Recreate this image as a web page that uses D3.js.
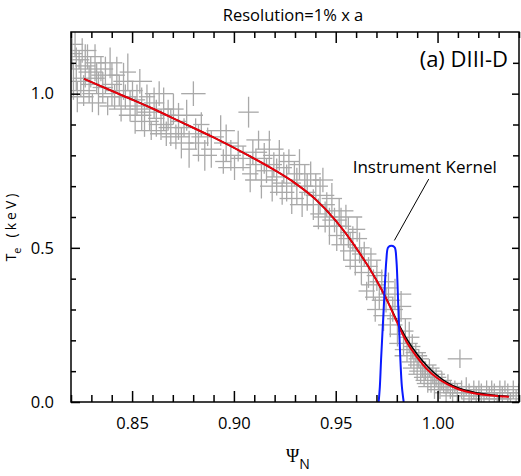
<!DOCTYPE html>
<html lang="en">
<head>
<meta charset="UTF-8">
<title>Te profile, DIII-D</title>
<script src="https://cdn.jsdelivr.net/npm/d3@7"></script>
<style>
body { margin: 0; background: #fff; }
svg text { font-family: "Open Sans", sans-serif; fill: #000; }
.tick text { font-size: 16.5px; }
.cross line { stroke: #a9a9a9; stroke-width: 1.3; }
</style>
</head>
<body>
<div id="chart"></div>
<script>
// measured points: psi_N, Te (keV) and their half error bars (one line per psi block)
const psiData = [
  0.8205,0.8212,0.8220,0.8226,0.8231,0.8240,0.8248,0.8255,0.8262,0.8270,0.8281,0.8289,0.8297,0.8305,0.8318,0.8326,0.8335,0.8347,0.8356,0.8369,0.8380,0.8392,0.8401,0.8414,0.8425,0.8437,0.8446,0.8458,
  0.8467,0.8479,0.8490,0.8502,0.8515,0.8524,0.8538,0.8547,0.8561,0.8573,0.8586,0.8594,0.8608,0.8619,0.8633,0.8642,0.8655,0.8668,0.8677,0.8690,
  0.8703,0.8715,0.8728,0.8742,0.8755,0.8768,0.8780,0.8801,0.8812,0.8826,0.8840,0.8857,0.8871,0.8889,0.8935,0.8948,0.8962,0.8985,0.9003,0.9021,
  0.9045,0.9072,0.9080,0.9093,0.9108,0.9121,0.9135,0.9149,0.9160,0.9174,0.9188,0.9196,0.9210,0.9223,0.9237,0.9245,0.9259,0.9270,0.9284,0.9297,0.9309,0.9322,0.9335,0.9348,0.9360,0.9377,
  0.9390,0.9402,0.9415,0.9423,0.9437,0.9448,0.9456,0.9469,0.9481,0.9494,0.9505,0.9517,0.9526,0.9539,0.9550,0.9562,0.9571,0.9584,0.9596,0.9605,0.9617,0.9626,0.9640,0.9652,0.9661,0.9673,0.9685,0.9694,0.9702,0.9714,
  0.9726,0.9735,0.9747,0.9759,0.9768,0.9780,0.9791,0.9803,0.9812,0.9821,0.9833,0.9842,0.9850,0.9861,0.9869,0.9876,0.9884,0.9893,0.9900,0.9908,
  0.9917,0.9925,0.9934,0.9941,0.9952,0.9960,0.9968,0.9977,0.9985,0.9993,1.0004,1.0012,1.0021,1.0030,1.0042,1.0051,1.0063,1.0074,1.0085,1.0097,
  1.0110,1.0118,1.0129,1.0141,1.0155,1.0166,1.0178,1.0190,1.0203,1.0215,1.0228,1.0241,1.0254,1.0266,1.0279,1.0293,1.0306,1.0318,1.0331,1.0345,1.0358,1.0372,1.0386,1.0399
];
const teData = [
  1.13,1.04,1.16,1.08,0.99,1.11,1.05,1.14,1.01,1.09,1.12,1.03,1.07,0.97,1.10,1.05,1.00,1.08,1.02,1.06,0.96,1.10,1.03,0.99,1.06,1.01,0.95,1.04,
  0.99,1.07,0.96,1.01,0.93,0.98,1.04,0.95,0.91,0.99,0.94,0.88,0.97,0.92,1.00,0.90,0.95,0.87,0.93,0.89,
  0.95,0.86,0.91,0.84,0.89,0.93,0.82,1.00,0.87,0.84,0.90,0.80,0.86,0.82,0.88,0.78,0.84,0.80,0.76,0.83,
  0.79,0.94,0.74,0.81,0.77,0.85,0.72,0.79,0.75,0.82,0.70,0.77,0.73,0.80,0.68,0.76,0.71,0.78,0.66,0.74,0.70,0.77,0.64,0.72,0.68,0.74,
  0.64,0.70,0.61,0.67,0.72,0.60,0.64,0.57,0.66,0.59,0.54,0.62,0.57,0.51,0.60,0.55,0.49,0.53,0.46,0.56,0.50,0.44,0.48,0.36,0.42,0.46,0.38,0.30,0.41,0.34,
  0.39,0.28,0.33,0.37,0.25,0.30,0.35,0.22,0.27,0.31,0.19,0.23,0.17,0.21,0.15,0.18,0.13,0.16,0.11,0.14,
  0.09,0.12,0.08,0.10,0.07,0.11,0.06,0.09,0.05,0.08,0.06,0.04,0.07,0.05,0.03,0.06,0.04,0.02,0.05,0.03,
  0.14,0.04,0.02,0.05,0.03,0.01,0.04,0.02,0.05,0.03,0.01,0.04,0.02,0.05,0.03,0.01,0.04,0.02,0.05,0.03,0.01,0.04,0.02,0.03
];
const psiErr = [
  0.005,0.007,0.004,0.006,0.008,0.005,0.004,0.007,0.006,0.005,0.008,0.004,0.006,0.007,0.005,0.004,0.008,0.006,0.005,0.007,0.004,0.006,0.005,0.008,0.004,0.007,0.006,0.005,
  0.006,0.004,0.007,0.005,0.008,0.004,0.006,0.005,0.007,0.004,0.006,0.008,0.005,0.004,0.007,0.006,0.005,0.008,0.004,0.006,
  0.005,0.007,0.004,0.006,0.005,0.008,0.004,0.006,0.007,0.005,0.004,0.006,0.008,0.005,0.007,0.004,0.006,0.005,0.008,0.004,
  0.006,0.005,0.004,0.007,0.005,0.006,0.008,0.004,0.005,0.007,0.006,0.004,0.005,0.008,0.006,0.004,0.007,0.005,0.006,0.004,0.008,0.005,0.006,0.007,0.004,0.005,
  0.005,0.006,0.004,0.007,0.005,0.006,0.004,0.008,0.005,0.006,0.004,0.007,0.005,0.006,0.008,0.004,0.005,0.007,0.006,0.004,0.005,0.008,0.006,0.004,0.007,0.005,0.006,0.004,0.005,0.007,
  0.006,0.005,0.007,0.004,0.006,0.005,0.008,0.004,0.006,0.005,0.007,0.004,0.006,0.005,0.008,0.004,0.006,0.005,0.007,0.005,
  0.006,0.007,0.005,0.008,0.006,0.005,0.007,0.006,0.008,0.005,0.007,0.006,0.005,0.008,0.006,0.007,0.005,0.006,0.008,0.007,
  0.006,0.005,0.007,0.006,0.008,0.005,0.007,0.006,0.005,0.008,0.006,0.007,0.005,0.006,0.008,0.007,0.005,0.006,0.007,0.005,0.008,0.006,0.007,0.005
];
const teErr = [
  0.05,0.06,0.04,0.07,0.05,0.03,0.06,0.04,0.05,0.07,0.04,0.06,0.05,0.03,0.06,0.05,0.07,0.04,0.05,0.06,0.03,0.05,0.07,0.04,0.06,0.05,0.04,0.06,
  0.04,0.06,0.05,0.03,0.06,0.05,0.04,0.07,0.05,0.04,0.06,0.03,0.05,0.06,0.04,0.05,0.07,0.04,0.05,0.06,
  0.05,0.04,0.06,0.05,0.03,0.05,0.06,0.04,0.05,0.06,0.04,0.05,0.03,0.06,0.05,0.04,0.06,0.05,0.04,0.05,
  0.04,0.05,0.06,0.04,0.05,0.03,0.06,0.05,0.04,0.06,0.05,0.04,0.06,0.05,0.04,0.05,0.06,0.04,0.05,0.04,0.06,0.05,0.04,0.05,0.06,0.04,
  0.05,0.04,0.05,0.06,0.04,0.05,0.04,0.06,0.05,0.04,0.05,0.04,0.06,0.05,0.04,0.05,0.06,0.04,0.05,0.04,0.05,0.06,0.04,0.03,0.05,0.04,0.05,0.04,0.05,0.04,
  0.04,0.05,0.04,0.05,0.04,0.04,0.05,0.04,0.04,0.05,0.04,0.04,0.04,0.05,0.04,0.04,0.04,0.03,0.04,0.03,
  0.03,0.04,0.03,0.03,0.04,0.03,0.03,0.03,0.04,0.03,0.03,0.03,0.03,0.02,0.03,0.03,0.03,0.03,0.02,0.03,
  0.03,0.03,0.02,0.03,0.03,0.02,0.03,0.03,0.02,0.03,0.02,0.03,0.03,0.02,0.03,0.02,0.03,0.03,0.02,0.03,0.02,0.03,0.02,0.03
];

// fitted profile after convolution (red) and underlying profile (black)
const fitPsi = [0.8264,0.845,0.860,0.875,0.890,0.905,0.920,0.930,0.940,0.950,0.960,0.970,0.975,0.980,0.985,0.990,0.995,1.000,1.005,1.010,1.020,1.030,1.035];
const fitTe  = [1.048,0.995,0.952,0.905,0.858,0.807,0.752,0.710,0.658,0.588,0.500,0.395,0.333,0.260,0.193,0.145,0.105,0.077,0.057,0.042,0.026,0.019,0.017];
const truePsi = [0.8264,0.845,0.860,0.875,0.890,0.905,0.920,0.930,0.940,0.950,0.960,0.970,0.975,0.980,0.985,0.990,0.995,1.000,1.005,1.010,1.020,1.030,1.035];
const trueTe  = [1.048,0.995,0.952,0.905,0.858,0.807,0.752,0.710,0.658,0.588,0.500,0.395,0.333,0.265,0.203,0.155,0.116,0.085,0.062,0.046,0.029,0.020,0.018];

// instrument kernel
const kernelPsi = [0.97108,0.97167,0.97226,0.97354,0.97487,0.97561,0.97659,0.97806,0.97905,0.97979,0.98077,0.98175,0.98249,0.98338];
const kernelVal = [0,0.05,0.136,0.30,0.461,0.50,0.506,0.506,0.50,0.461,0.30,0.136,0.05,0];

const xMajor = [0.85, 0.90, 0.95, 1.00];
const yMajor = [0.0, 0.5, 1.0];

const margin = { top: 32, right: 2, bottom: 74, left: 71 };
const width = 521 - margin.left - margin.right;
const height = 476 - margin.top - margin.bottom;

const svg = d3.select('#chart').append('svg')
  .attr('width', 521)
  .attr('height', 476);

const g = svg.append('g')
  .attr('transform', `translate(${margin.left},${margin.top})`);

const x = d3.scaleLinear().domain([0.82, 1.04]).range([0, width]);
const y = d3.scaleLinear().domain([0, 1.2]).range([height, 0]);

g.append('defs').append('clipPath')
  .attr('id', 'clip')
  .append('rect')
  .attr('width', width)
  .attr('height', height);

const plot = g.append('g').attr('clip-path', 'url(#clip)');

// crosses
const pts = psiData.map((p, i) => ({ p: p, t: teData[i], dp: psiErr[i] ?? 0.005, dt: teErr[i] ?? 0.04 }));
const cross = plot.append('g').attr('class', 'cross');
cross.selectAll('.h').data(pts).join('line')
  .attr('x1', d => x(d.p - d.dp)).attr('x2', d => x(d.p + d.dp))
  .attr('y1', d => y(d.t)).attr('y2', d => y(d.t));
cross.selectAll('.v').data(pts).join('line')
  .attr('x1', d => x(d.p)).attr('x2', d => x(d.p))
  .attr('y1', d => y(d.t - d.dt)).attr('y2', d => y(d.t + d.dt));

const line = d3.line().curve(d3.curveMonotoneX);

plot.append('path')
  .attr('d', line(truePsi.map((p, i) => [x(p), y(trueTe[i])])))
  .attr('fill', 'none').attr('stroke', '#000').attr('stroke-width', 1.5);

plot.append('path')
  .attr('d', line(fitPsi.map((p, i) => [x(p), y(fitTe[i])])))
  .attr('fill', 'none').attr('stroke', '#e8000b').attr('stroke-width', 2);

plot.append('path')
  .attr('d', d3.line().curve(d3.curveCatmullRom)(kernelPsi.map((p, i) => [x(p), y(kernelVal[i])])))
  .attr('fill', 'none').attr('stroke', '#0a1aff').attr('stroke-width', 2);

// axes, ticks inward
const minorX = d3.range(0.82, 1.0401, 0.01).filter(v => !xMajor.some(m => Math.abs(m - v) < 1e-6));
const minorY = d3.range(0.1, 1.2, 0.1).filter(v => !yMajor.some(m => Math.abs(m - v) < 1e-6));

g.append('g').attr('transform', `translate(0,${height})`)
  .call(d3.axisBottom(x).tickValues(xMajor).tickSize(-11).tickPadding(15).tickFormat(d3.format('.2f')));
g.append('g').attr('transform', `translate(0,${height})`)
  .call(d3.axisBottom(x).tickValues(minorX).tickSize(-7).tickFormat(''));
g.append('g')
  .call(d3.axisTop(x).tickValues(xMajor).tickSize(-11).tickFormat(''));
g.append('g')
  .call(d3.axisTop(x).tickValues(minorX).tickSize(-6).tickFormat(''));

g.append('g')
  .call(d3.axisLeft(y).tickValues(yMajor).tickSize(-9).tickPadding(17).tickFormat(d3.format('.1f')));
g.append('g')
  .call(d3.axisLeft(y).tickValues(minorY).tickSize(-5).tickFormat(''));
g.append('g').attr('transform', `translate(${width},0)`)
  .call(d3.axisRight(y).tickValues(yMajor).tickSize(-7).tickFormat(''));
g.append('g').attr('transform', `translate(${width},0)`)
  .call(d3.axisRight(y).tickValues(minorY).tickSize(-6).tickFormat(''));

g.selectAll('.domain').remove();
g.selectAll('.tick line').attr('stroke', '#000').attr('stroke-width', 1.5);

g.append('rect')
  .attr('width', width).attr('height', height)
  .attr('fill', 'none').attr('stroke', '#000').attr('stroke-width', 1.5);

// texts
svg.append('text')
  .attr('x', margin.left + width / 2 - 2).attr('y', 21)
  .attr('text-anchor', 'middle').attr('font-size', 16.5)
  .text('Resolution=1% x a');

g.append('text')
  .attr('x', x(1.0346)).attr('y', y(1.088))
  .attr('text-anchor', 'end').attr('font-size', 22)
  .text('(a) DIII-D');

g.append('text')
  .attr('x', x(0.9937)).attr('y', y(0.743))
  .attr('text-anchor', 'middle').attr('font-size', 17)
  .text('Instrument Kernel');

g.append('line')
  .attr('x1', x(0.99567)).attr('y1', y(0.723))
  .attr('x2', x(0.97880)).attr('y2', y(0.524))
  .attr('stroke', '#000').attr('stroke-width', 1);

const xl = svg.append('text')
  .attr('x', 298).attr('y', 462)
  .attr('text-anchor', 'middle');
xl.append('tspan').attr('font-family', '"Liberation Serif", serif').attr('font-size', 18).text('Ψ');
xl.append('tspan').attr('font-size', 14).attr('dy', 7).text('N');

const yl = svg.append('text')
  .attr('transform', `translate(16,226) rotate(-90)`)
  .attr('text-anchor', 'middle').attr('font-size', 14);
yl.append('tspan').text('T');
yl.append('tspan').attr('font-size', 11).attr('dy', 5).text('e');
yl.append('tspan').attr('dy', -5).attr('dx', 10).attr('letter-spacing', 3).text('(keV)');
</script>
</body>
</html>
